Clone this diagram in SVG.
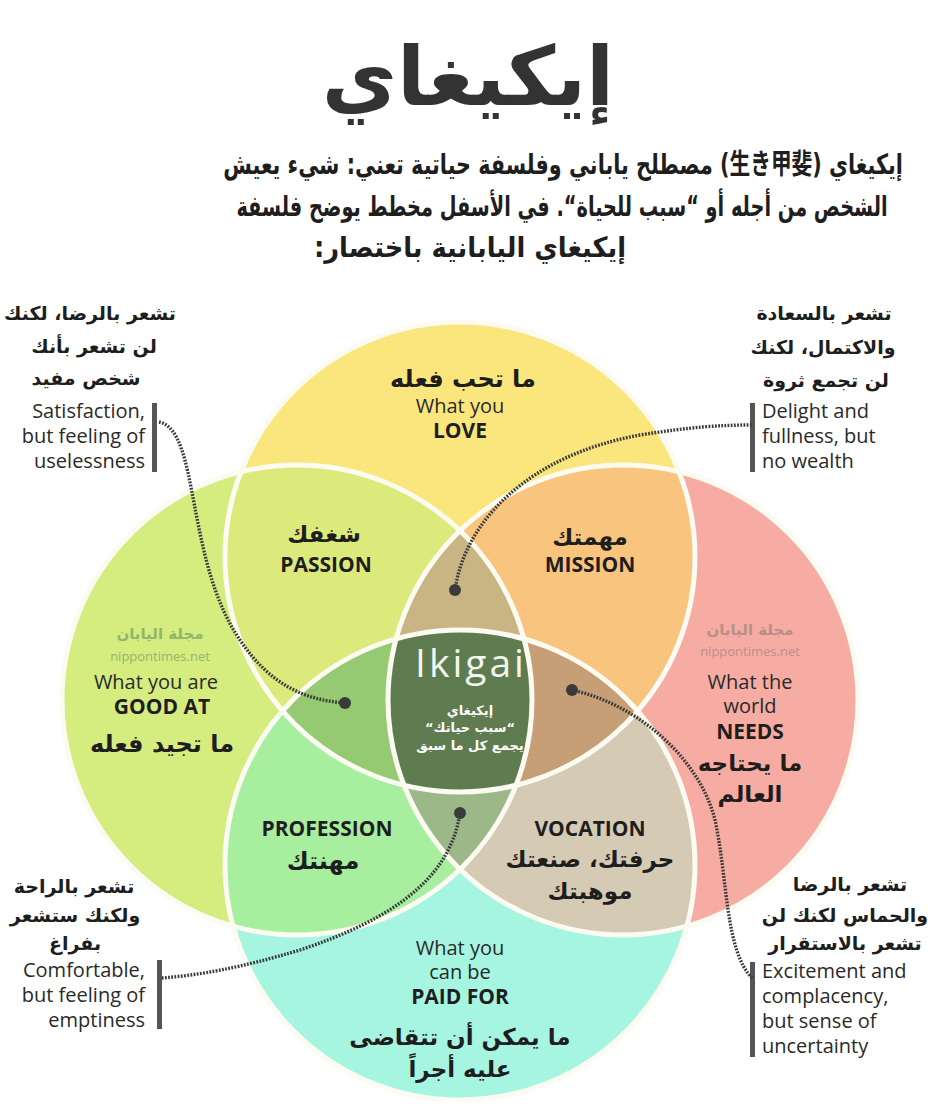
<svg xmlns="http://www.w3.org/2000/svg" width="938" height="1118" viewBox="0 0 938 1118">
<style>
.ar{font-family:"DejaVu Sans","Noto Sans CJK JP",sans-serif;font-weight:bold;fill:#1e1e1e;text-anchor:middle}
.en{font-family:"Open Sans","Noto Sans",sans-serif;fill:#2a2a2a}
.enb{font-family:"Open Sans","Noto Sans",sans-serif;font-weight:bold;fill:#1e1e1e;text-anchor:middle}
.c{text-anchor:middle}
.r{text-anchor:end}
.l{text-anchor:start}
.wm{font-family:"DejaVu Sans",sans-serif;font-weight:bold;text-anchor:middle}
.wmen{font-family:"Open Sans","Noto Sans",sans-serif;text-anchor:middle}
.dot{stroke:#3a3a3a;stroke-width:3.4;fill:none;stroke-dasharray:1.8 1.4}
.bar{fill:#555}
.edge{fill:none;stroke:#fbfbf2;stroke-width:5}
</style>
<defs>
<clipPath id="cT"><circle cx="460" cy="557" r="235"/></clipPath>
<clipPath id="cL"><circle cx="297" cy="700" r="235"/></clipPath>
<clipPath id="cR"><circle cx="623" cy="700" r="235"/></clipPath>
<clipPath id="cB"><circle cx="460" cy="865" r="235"/></clipPath>
</defs>
<rect width="938" height="1118" fill="#ffffff"/>

<g id="title">
<text class="ar" x="468" y="105" font-size="82" style="fill:#333">إيكيغاي</text>
</g>
<g id="intro" class="ar" font-size="28">
<text transform="translate(563,174) scale(0.74,1)" x="0" y="0" direction="rtl">إيكيغاي (生き甲斐) مصطلح ياباني وفلسفة حياتية تعني: شيء يعيش</text>
<text transform="translate(562,216) scale(0.69,1)" x="0" y="0" direction="rtl">الشخص من أجله أو “سبب للحياة“. في الأسفل مخطط يوضح فلسفة</text>
<text transform="translate(470,257) scale(0.92,1)" x="0" y="0" direction="rtl">إيكيغاي اليابانية باختصار:</text>
</g>

<g id="venn">
<circle cx="460" cy="557" r="235" fill="#fae67c"/>
<circle cx="297" cy="700" r="235" fill="#d5ec7f"/>
<circle cx="623" cy="700" r="235" fill="#f6aca3"/>
<circle cx="460" cy="865" r="235" fill="#a5f5e1"/>
<g clip-path="url(#cL)"><circle cx="460" cy="557" r="235" fill="#dce97b"/></g>
<g clip-path="url(#cR)"><circle cx="460" cy="557" r="235" fill="#f9c47e"/></g>
<g clip-path="url(#cL)"><circle cx="460" cy="865" r="235" fill="#a8ee9f"/></g>
<g clip-path="url(#cR)"><circle cx="460" cy="865" r="235" fill="#d5cab4"/></g>
<g clip-path="url(#cL)"><g clip-path="url(#cR)"><circle cx="460" cy="557" r="235" fill="#c8b583"/></g></g>
<g clip-path="url(#cL)"><g clip-path="url(#cR)"><circle cx="460" cy="865" r="235" fill="#9db888"/></g></g>
<g clip-path="url(#cL)"><g clip-path="url(#cB)"><circle cx="460" cy="557" r="235" fill="#95c972"/></g></g>
<g clip-path="url(#cR)"><g clip-path="url(#cB)"><circle cx="460" cy="557" r="235" fill="#c79f77"/></g></g>
<g clip-path="url(#cL)"><g clip-path="url(#cR)"><g clip-path="url(#cB)"><circle cx="460" cy="557" r="235" fill="#5e7c50"/></g></g></g>
<circle class="edge" cx="460" cy="557" r="235"/>
<circle class="edge" cx="297" cy="700" r="235"/>
<circle class="edge" cx="623" cy="700" r="235"/>
<circle class="edge" cx="460" cy="865" r="235"/>
</g>

<g id="love">
<text class="ar" x="463" y="387" font-size="24">ما تحب فعله</text>
<text class="en c" x="460" y="413" font-size="20">What you</text>
<text class="enb" x="460" y="438" font-size="21">LOVE</text>
</g>
<g id="passion">
<text class="ar" x="324" y="542" font-size="23">شغفك</text>
<text class="enb" x="326" y="572" font-size="21">PASSION</text>
</g>
<g id="mission">
<text class="ar" x="590" y="545" font-size="23">مهمتك</text>
<text class="enb" x="590" y="572" font-size="21">MISSION</text>
</g>
<g id="goodat">
<text class="wm" x="160" y="639" font-size="15" fill="#93b66b">مجلة اليابان</text>
<text class="wmen" x="160" y="661" font-size="13" fill="#93b66b">nippontimes.net</text>
<text class="en c" x="156" y="689" font-size="20">What you are</text>
<text class="enb" x="162" y="714" font-size="21">GOOD AT</text>
<text class="ar" x="162" y="752" font-size="24">ما تجيد فعله</text>
</g>
<g id="needs">
<text class="wm" x="750" y="635" font-size="15" fill="#b98f8a">مجلة اليابان</text>
<text class="wmen" x="750" y="656" font-size="13" fill="#b98f8a">nippontimes.net</text>
<text class="en c" x="750" y="689" font-size="20">What the</text>
<text class="en c" x="750" y="713" font-size="20">world</text>
<text class="enb" x="750" y="739" font-size="21">NEEDS</text>
<text class="ar" x="750" y="771" font-size="23">ما يحتاجه</text>
<text class="ar" x="750" y="802" font-size="23">العالم</text>
</g>
<g id="ikigai">
<text class="wmen" x="471" y="677" font-size="39" letter-spacing="3" fill="#f4f6ef">Ikigai</text>
<text class="ar" x="470" y="715" font-size="13" style="fill:#fff">إيكيغاي</text>
<text class="ar" x="470" y="732" font-size="13" style="fill:#fff">“سبب حياتك“</text>
<text class="ar" x="470" y="750" font-size="13" style="fill:#fff">يجمع كل ما سبق</text>
</g>
<g id="profession">
<text class="enb" x="327" y="836" font-size="21">PROFESSION</text>
<text class="ar" x="323" y="869" font-size="24">مهنتك</text>
</g>
<g id="vocation">
<text class="enb" x="590" y="836" font-size="21">VOCATION</text>
<text class="ar" x="590" y="867" font-size="23">حرفتك، صنعتك</text>
<text class="ar" x="590" y="899" font-size="23">موهبتك</text>
</g>
<g id="paid">
<text class="en c" x="460" y="955" font-size="20">What you</text>
<text class="en c" x="460" y="979" font-size="20">can be</text>
<text class="enb" x="460" y="1004" font-size="21">PAID FOR</text>
<text class="ar" x="460" y="1045" font-size="23">ما يمكن أن تتقاضى</text>
<text class="ar" x="460" y="1077" font-size="23">عليه أجراً</text>
</g>

<g id="note-tl">
<text class="ar" x="90" y="320" font-size="19">تشعر بالرضا، لكنك</text>
<text class="ar" x="94" y="353" font-size="19">لن تشعر بأنك</text>
<text class="ar" x="86" y="385" font-size="19">شخص مفيد</text>
<text class="en r" x="145" y="418" font-size="20">Satisfaction,</text>
<text class="en r" x="145" y="443" font-size="20">but feeling of</text>
<text class="en r" x="145" y="468" font-size="20">uselessness</text>
<rect class="bar" x="152" y="403" width="5" height="69"/>
</g>
<g id="note-tr">
<text class="ar" x="824" y="320" font-size="19">تشعر بالسعادة</text>
<text class="ar" x="823" y="354" font-size="19">والاكتمال، لكنك</text>
<text class="ar" x="826" y="387" font-size="19">لن تجمع ثروة</text>
<text class="en l" x="762" y="418" font-size="20">Delight and</text>
<text class="en l" x="762" y="443" font-size="20">fullness, but</text>
<text class="en l" x="762" y="468" font-size="20">no wealth</text>
<rect class="bar" x="750" y="403" width="5" height="69"/>
</g>
<g id="note-bl">
<text class="ar" x="74" y="893" font-size="19">تشعر بالراحة</text>
<text class="ar" x="75" y="922" font-size="19">ولكنك ستشعر</text>
<text class="ar" x="75" y="950" font-size="19">بفراغ</text>
<text class="en r" x="145" y="977" font-size="20">Comfortable,</text>
<text class="en r" x="145" y="1002" font-size="20">but feeling of</text>
<text class="en r" x="145" y="1027" font-size="20">emptiness</text>
<rect class="bar" x="157" y="960" width="5" height="69"/>
</g>
<g id="note-br">
<text class="ar" x="850" y="891" font-size="19">تشعر بالرضا</text>
<text class="ar" x="845" y="922" font-size="19">والحماس لكنك لن</text>
<text class="ar" x="845" y="950" font-size="19">تشعر بالاستقرار</text>
<text class="en l" x="762" y="978" font-size="20">Excitement and</text>
<text class="en l" x="762" y="1003" font-size="20">complacency,</text>
<text class="en l" x="762" y="1028" font-size="20">but sense of</text>
<text class="en l" x="762" y="1053" font-size="20">uncertainty</text>
<rect class="bar" x="750" y="962" width="5" height="95"/>
</g>

<g id="connectors">
<path class="dot" d="M159,422 C200,430 185,560 240,640 C270,685 305,700 345,703"/>
<path class="dot" d="M455,590 C465,520 530,455 640,435 C690,427 720,425 752,425"/>
<path class="dot" d="M460,813 C450,880 390,920 300,950 C240,968 200,975 162,978"/>
<path class="dot" d="M572,690 C640,705 700,760 715,820 C728,880 725,950 752,978"/>
<circle cx="345" cy="703" r="6" fill="#3a3a3a"/>
<circle cx="455" cy="590" r="6" fill="#3a3a3a"/>
<circle cx="460" cy="813" r="6" fill="#3a3a3a"/>
<circle cx="572" cy="690" r="6" fill="#3a3a3a"/>
</g>
</svg>
